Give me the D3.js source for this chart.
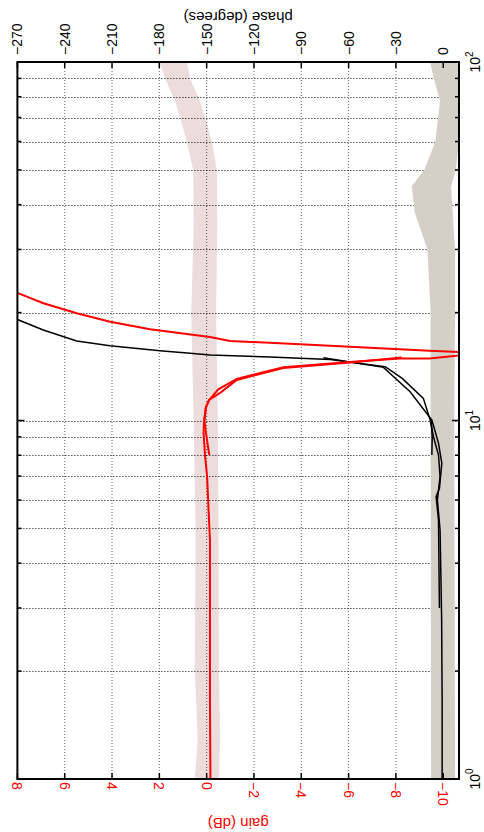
<!DOCTYPE html>
<html>
<head>
<meta charset="utf-8">
<script src="https://cdn.jsdelivr.net/npm/d3@7"></script>
<style>
  body { margin: 0; background: #fff; }
  text { font-family: "Liberation Sans", Arial, Helvetica, sans-serif; }
</style>
</head>
<body>
<svg id="chart" width="484" height="832"></svg>
<script>
// ticks
const gainTicks = [8, 6, 4, 2, 0, -2, -4, -6, -8, -10];
const phaseTicks = [-270, -240, -210, -180, -150, -120, -90, -60, -30, 0];
const decadeTicks = [1, 10, 100];
const minorFreqs = [2, 3, 4, 5, 6, 7, 8, 9, 20, 30, 40, 50, 60, 70, 80, 90];

// tolerance bands: [freq, high, low]
const gainBand = [[1, 0.5, -0.52], [1.3, 0.38, -0.57], [2, 0.5, -0.52], [5, 0.47, -0.5], [10, 0.55, -0.47],
  [20, 0.65, -0.4], [35, 0.55, -0.45], [50, 0.57, -0.43], [60, 0.84, -0.22], [70, 1.12, 0.07],
  [78, 1.34, 0.28], [90, 1.76, 0.7], [100, 1.97, 0.83]];
const phaseBand = [[1, -7.7, 7.5], [10, -8, 7], [20, -8, 7.5], [30, -10, 7.5], [38, -18, 6],
  [45, -20, 5], [50, -12, 8], [60, -5, 10], [78, -2, 12], [90, -6, 12], [100, -8.3, 8.8]];

// gain (dB) vs freq
const gainA = [[1, -0.16], [1.66, -0.14], [3.16, -0.14], [4.64, -0.14], [5.28, -0.1], [6.96, -0.02],
  [8.01, 0.07], [9.23, 0.13], [10.03, 0.11], [10.9, 0.03], [11.41, -0.11], [12.22, -0.49],
  [13.06, -1.27], [14.07, -3.24], [14.56, -6.06], [14.89, -8.18], [14.9, -9.42], [15.23, -10.9]];
const gainB = [[8.01, -0.11], [9.23, 0.03], [9.97, 0.09], [10.9, 0.03], [11.41, -0.1], [11.98, -0.6],
  [12.97, -1.27], [14.01, -3.24], [14.51, -6.06], [15.0, -8.25]];
const gainC = [[15.5, -10.9], [15.65, -9.42], [16.07, -6.06], [16.32, -3.95], [16.67, -0.99], [17.1, -0.14],
  [17.97, 2.39], [18.86, 4.08], [19.91, 5.49], [21.23, 6.9], [22.73, 8.03], [23.5, 8.6]];

// phase (deg) vs freq
const phaseA = [[1, -0.7], [1.66, -0.7], [2.78, -1.0], [4.95, -2.0], [6.0, -3.7], [6.97, -2.0],
  [8.01, -3.0], [9.01, -6.2], [10.03, -8.3], [11.53, -12.6], [13.1, -26], [14.13, -36.8],
  [14.8, -71.7], [15.04, -109.8], [15.23, -147.8], [15.4, -160.5], [15.65, -179.6], [16.17, -211.3],
  [16.67, -232.4], [17.88, -253.6], [19.16, -270.4], [20.5, -280]];
const phaseB = [[3.0, -2.4], [5.28, -3.0], [6.13, -4.5], [6.47, -2.4], [7.6, -0.9], [8.64, -3.0],
  [10.03, -7.2], [12.03, -21.0], [14.07, -37.9], [14.97, -76.0]];
const phaseC = [[8.01, -7.2], [9.0, -7.0], [10.03, -7.6]];

const svg = d3.select("#chart");
const mLeft = 17.4, mRight = 459, mTop = 62, mBottom = 779;

const y = d3.scaleLog().domain([1, 100]).range([mBottom, mTop]);
const xg = d3.scaleLinear().domain([8, -10.667]).range([mLeft, mRight]);
const xp = d3.scaleLinear().domain([-270, 10]).range([mLeft, mRight]);

svg.append("clipPath").attr("id", "clip")
  .append("rect").attr("x", mLeft).attr("y", mTop)
  .attr("width", mRight - mLeft).attr("height", mBottom - mTop);

const plot = svg.append("g").attr("clip-path", "url(#clip)");

// pink gain band
plot.append("path")
  .datum(gainBand)
  .attr("fill", "#eddcdc")
  .attr("d", d3.area().y(d => y(d[0])).x0(d => xg(d[1])).x1(d => xg(d[2])));

// grid
const grid = plot.append("g")
  .attr("stroke", "#000").attr("stroke-width", 1).attr("stroke-dasharray", "1,2");
grid.selectAll(".vg")
  .data(gainTicks.slice(1))
  .enter().append("line")
  .attr("x1", d => xg(d)).attr("x2", d => xg(d))
  .attr("y1", mTop).attr("y2", mBottom)
  .attr("stroke-opacity", 0.6);
grid.selectAll(".hg")
  .data(minorFreqs.concat([10]))
  .enter().append("line")
  .attr("x1", mLeft).attr("x2", mRight)
  .attr("y1", d => Math.round(y(d)) + 0.5).attr("y2", d => Math.round(y(d)) + 0.5);

// grey phase band
plot.append("path")
  .datum(phaseBand)
  .attr("fill", "#d4d0c8")
  .attr("d", d3.area().y(d => y(d[0])).x0(d => xp(d[1])).x1(d => xp(d[2])));

// curves
const gainLine = d3.line().x(d => xg(d[1])).y(d => y(d[0]));
const phaseLine = d3.line().x(d => xp(d[1])).y(d => y(d[0]));

[phaseA, phaseB, phaseC].forEach(s => {
  plot.append("path").datum(s)
    .attr("fill", "none").attr("stroke", "#000").attr("stroke-width", 1.5)
    .attr("d", phaseLine);
});
[gainA, gainB, gainC].forEach(s => {
  plot.append("path").datum(s)
    .attr("fill", "none").attr("stroke", "#f00").attr("stroke-width", 2)
    .attr("d", gainLine);
});

// box and ticks
const ax = svg.append("g").attr("stroke", "#000");
ax.append("rect")
  .attr("x", mLeft).attr("y", mTop)
  .attr("width", mRight - mLeft).attr("height", mBottom - mTop)
  .attr("fill", "none").attr("stroke-width", 2);

gainTicks.forEach(t => {
  ax.append("line").attr("x1", xg(t)).attr("x2", xg(t)).attr("y1", mBottom).attr("y2", mBottom - 6).attr("stroke-width", 1.5);
  ax.append("line").attr("x1", xg(t)).attr("x2", xg(t)).attr("y1", mTop).attr("y2", mTop + 6).attr("stroke-width", 1.5);
});
minorFreqs.concat(decadeTicks).forEach(f => {
  const len = decadeTicks.includes(f) ? 7 : 4;
  ax.append("line").attr("x1", mLeft).attr("x2", mLeft + len).attr("y1", y(f)).attr("y2", y(f)).attr("stroke-width", 1.5);
  ax.append("line").attr("x1", mRight).attr("x2", mRight - len).attr("y1", y(f)).attr("y2", y(f)).attr("stroke-width", 1.5);
});

const fmt = v => (v < 0 ? "\u2212" + Math.abs(v) : String(v));

// phase tick labels (top)
svg.append("g").selectAll("text")
  .data(phaseTicks)
  .enter().append("text")
  .attr("transform", d => `translate(${xp(d)},55) rotate(-90)`)
  .attr("dy", "0.35em")
  .attr("font-size", 14)
  .text(fmt);

// gain tick labels (bottom)
svg.append("g").selectAll("text")
  .data(gainTicks)
  .enter().append("text")
  .attr("transform", d => `translate(${xg(d)},782) rotate(90)`)
  .attr("dy", "0.35em")
  .attr("font-size", 14)
  .attr("fill", "#f00")
  .text(fmt);

// frequency decade labels (right)
const dec = svg.append("g").selectAll("text")
  .data(decadeTicks)
  .enter().append("text")
  .attr("transform", d => `translate(480,${y(d)}) rotate(-90)`)
  .attr("text-anchor", "middle")
  .attr("font-size", 14);
dec.append("tspan").text("10");
dec.append("tspan").attr("dy", -7).attr("font-size", 10).text(d => Math.round(Math.log10(d)));

// axis titles (upside down)
svg.append("text")
  .attr("transform", `translate(${(mLeft + mRight) / 2},12) rotate(180)`)
  .attr("text-anchor", "middle")
  .attr("font-size", 15)
  .text("phase (degrees)");
svg.append("text")
  .attr("transform", `translate(${(mLeft + mRight) / 2},818) rotate(180)`)
  .attr("text-anchor", "middle")
  .attr("font-size", 15)
  .attr("fill", "#f00")
  .text("gain (dB)");
</script>
</body>
</html>
